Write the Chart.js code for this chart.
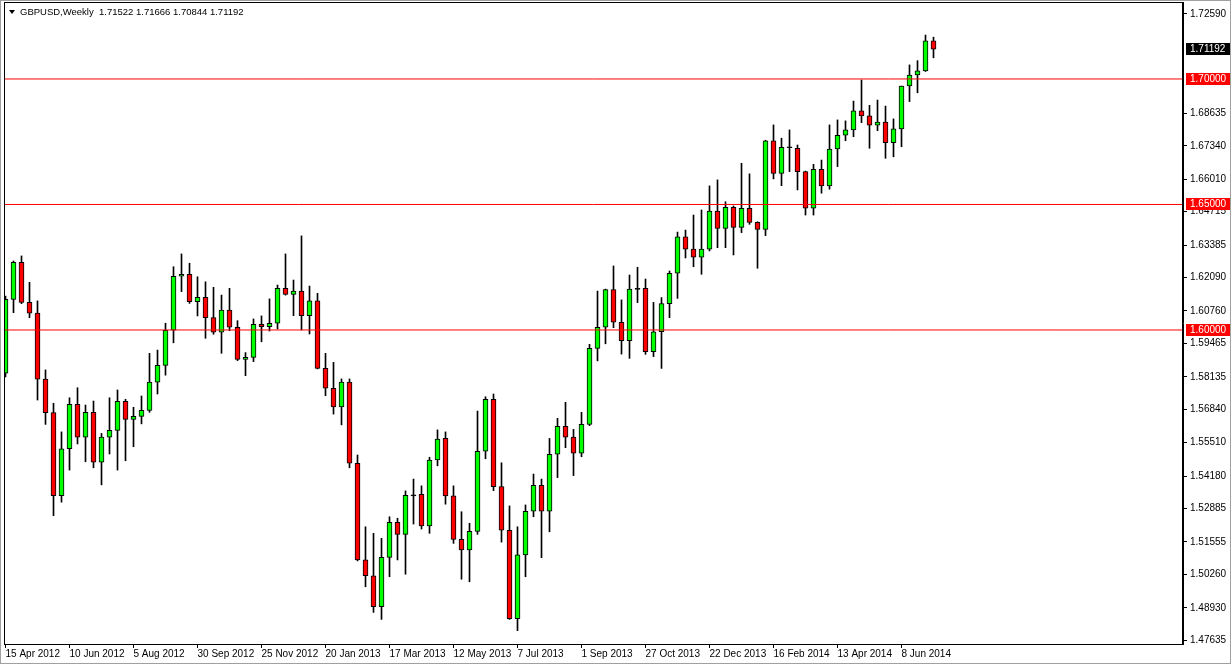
<!DOCTYPE html>
<html><head><meta charset="utf-8">
<script src="https://cdn.jsdelivr.net/npm/chart.js@4.4.0/dist/chart.umd.min.js"></script>
<style>html,body{margin:0;padding:0;background:#fff;}canvas{display:block;}</style>
</head><body>
<canvas id="c" width="1232" height="665"></canvas>
<script>
const symbolTitle = "GBPUSD,Weekly";
const lastQuote = [1.71522, 1.71666, 1.70844, 1.71192];

const opens = [1.5828,1.6122,1.6270,1.6110,1.6067,1.5804,1.5671,1.5340,1.5527,1.5704,
1.5573,1.5672,1.5473,1.5573,1.5600,1.5716,1.5644,1.5656,1.5680,1.5792,
1.5859,1.5999,1.6214,1.6222,1.6113,1.6130,1.6049,1.5991,1.6079,1.6011,
1.5883,1.5891,1.6023,1.6013,1.6027,1.6166,1.6142,1.6155,1.6057,1.6116,
1.5847,1.5768,1.5694,1.5792,1.5469,1.5084,1.5021,1.4898,1.5094,1.5234,
1.5186,1.5341,1.5345,1.5219,1.5482,1.5568,1.5339,1.5166,1.5124,1.5198,
1.5517,1.5724,1.5376,1.5202,1.4850,1.5104,1.5278,1.5381,1.5278,1.5505,
1.5616,1.5573,1.5509,1.5624,1.5927,1.6011,1.6161,1.6031,1.5957,1.6164,
1.6166,1.5914,1.5993,1.6105,1.6226,1.6371,1.6322,1.6290,1.6322,1.6474,
1.6405,1.6489,1.6409,1.6485,1.6429,1.6401,1.6754,1.6624,1.6728,1.6724,
1.6631,1.6485,1.6640,1.6574,1.6721,1.6776,1.6797,1.6873,1.6853,1.6816,
1.6828,1.6746,1.6801,1.6972,1.7016,1.7032,1.71522];
const highs = [1.6135,1.6275,1.6295,1.6190,1.6116,1.5841,1.5708,1.5594,1.5730,1.5770,
1.5701,1.5717,1.5588,1.5730,1.5761,1.5724,1.5692,1.5737,1.5907,1.5920,
1.6027,1.6252,1.6303,1.6266,1.6212,1.6192,1.6170,1.6139,1.6166,1.6037,
1.5910,1.6044,1.6056,1.6124,1.6179,1.6303,1.6199,1.6375,1.6175,1.6146,
1.5907,1.5871,1.5805,1.5805,1.5502,1.5216,1.5190,1.5170,1.5256,1.5250,
1.5359,1.5406,1.5379,1.5493,1.5602,1.5594,1.5379,1.5276,1.5230,1.5677,
1.5734,1.5745,1.5471,1.5299,1.5216,1.5303,1.5426,1.5406,1.5568,1.5648,
1.5712,1.5604,1.5672,1.5943,1.6155,1.6163,1.6255,1.6120,1.6219,1.6250,
1.6203,1.6110,1.6129,1.6235,1.6390,1.6398,1.6458,1.6478,1.6574,1.6598,
1.6511,1.6494,1.6664,1.6622,1.6431,1.6756,1.6817,1.6764,1.6797,1.6737,
1.6633,1.6660,1.6677,1.6817,1.6837,1.6833,1.6912,1.6996,1.6895,1.6916,
1.6892,1.6841,1.6972,1.7056,1.7073,1.7175,1.71666];
const lows = [1.5813,1.6069,1.6105,1.6049,1.5721,1.5624,1.5260,1.5314,1.5442,1.5546,
1.5475,1.5451,1.5383,1.5506,1.5442,1.5479,1.5535,1.5626,1.5672,1.5745,
1.5820,1.5949,1.6153,1.6106,1.6056,1.5967,1.5983,1.5907,1.5997,1.5878,
1.5818,1.5874,1.5953,1.5996,1.6004,1.6139,1.6057,1.6000,1.5984,1.5845,
1.5738,1.5665,1.5622,1.5451,1.5080,1.4977,1.4875,1.4847,1.5017,1.5084,
1.5027,1.5227,1.5207,1.5190,1.5459,1.5306,1.5150,1.5007,1.4997,1.5186,
1.5487,1.5360,1.5155,1.4847,1.4802,1.5017,1.5256,1.5093,1.5196,1.5412,
1.5531,1.5420,1.5495,1.5619,1.5877,1.5945,1.6009,1.5904,1.5887,1.6109,
1.5903,1.5894,1.5847,1.6049,1.6126,1.6287,1.6252,1.6222,1.6315,1.6328,
1.6328,1.6299,1.6388,1.6421,1.6246,1.6376,1.6602,1.6575,1.6631,1.6558,
1.6458,1.6458,1.6545,1.6561,1.6651,1.6754,1.6770,1.6826,1.6724,1.6794,
1.6684,1.6690,1.6730,1.6910,1.6945,1.7030,1.70844];
const closes = [1.6122,1.6270,1.6110,1.6067,1.5804,1.5671,1.5340,1.5527,1.5704,1.5573,
1.5672,1.5473,1.5573,1.5600,1.5716,1.5644,1.5656,1.5680,1.5792,1.5859,
1.5999,1.6214,1.6222,1.6113,1.6130,1.6049,1.5991,1.6079,1.6011,1.5883,
1.5891,1.6023,1.6013,1.6027,1.6166,1.6142,1.6155,1.6057,1.6116,1.5847,
1.5768,1.5694,1.5792,1.5469,1.5084,1.5021,1.4898,1.5094,1.5234,1.5186,
1.5341,1.5341,1.5219,1.5482,1.5565,1.5339,1.5166,1.5124,1.5198,1.5517,
1.5724,1.5376,1.5202,1.4850,1.5104,1.5278,1.5381,1.5278,1.5505,1.5616,
1.5573,1.5509,1.5624,1.5927,1.6011,1.6161,1.6031,1.5957,1.6163,1.6164,
1.5914,1.5993,1.6105,1.6226,1.6371,1.6322,1.6290,1.6322,1.6474,1.6405,
1.6489,1.6409,1.6485,1.6429,1.6401,1.6754,1.6624,1.6728,1.6728,1.6631,
1.6485,1.6640,1.6574,1.6721,1.6776,1.6797,1.6873,1.6853,1.6816,1.6828,
1.6746,1.6801,1.6972,1.7016,1.7032,1.7152,1.71192];

const dateLabels = ["15 Apr 2012","10 Jun 2012","5 Aug 2012","30 Sep 2012","25 Nov 2012","20 Jan 2013","17 Mar 2013","12 May 2013","7 Jul 2013","1 Sep 2013","27 Oct 2013","22 Dec 2013","16 Feb 2014","13 Apr 2014","8 Jun 2014"];
const dateLabelIndex = [0,8,16,24,32,40,48,56,64,72,80,88,96,104,112];
const priceTicks = [1.72590,1.68635,1.67340,1.66010,1.64715,1.63385,1.62090,1.60760,1.59465,1.58135,1.56840,1.55510,1.54180,1.52885,1.51555,1.50260,1.48930,1.47635];
const levelLines = [1.70000, 1.65000, 1.60000];

const X_MIN = -0.1875, X_MAX = 147.1875;
const Y_MIN = 1.47490, Y_MAX = 1.73067;
const FONT = "'Liberation Sans', Arial, sans-serif";

const bodies = opens.map((o, i) => {
  const c = closes[i];
  if (Math.abs(o - c) < 0.0003) { const m = (o + c) / 2; return {x: i, y: [m - 0.0002, m + 0.0002]}; }
  return {x: i, y: [o, c]};
});
const bodyColors = opens.map((o, i) => Math.abs(o - closes[i]) < 0.0003 ? '#000000' : (closes[i] > o ? '#00ff00' : '#ff0000'));
const wicks = highs.map((h, i) => ({x: i, y: [lows[i], h]}));

const lineSets = levelLines.map(v => ({
  type: 'line', data: [{x: X_MIN, y: v}, {x: X_MAX, y: v}],
  borderColor: '#ff0000', borderWidth: 1, pointRadius: 0, order: 0
}));

const zeroPad = s => { s.paddingTop = 0; s.paddingBottom = 0; s.paddingLeft = 0; s.paddingRight = 0; };

const decor = {
  id: 'decor',
  beforeDraw(chart) {
    const ctx = chart.ctx;
    ctx.save();
    ctx.fillStyle = '#ffffff';
    ctx.fillRect(0, 0, chart.width, chart.height);
    ctx.restore();
  },
  afterDraw(chart) {
    const ctx = chart.ctx, a = chart.chartArea, ys = chart.scales.y;
    ctx.save();
    ctx.strokeStyle = '#000';
    ctx.lineWidth = 1;
    ctx.strokeRect(a.left + 0.5, a.top + 0.5, a.right - a.left - 1, a.bottom - a.top);
    ctx.strokeStyle = '#a0a0a0';
    ctx.strokeRect(0.5, 0.5, chart.width - 2, chart.height - 2);
    ctx.font = '10px ' + FONT;
    ctx.textBaseline = 'middle';
    ctx.textAlign = 'left';
    const drawBox = (v, bg) => {
      const y = Math.round(ys.getPixelForValue(v));
      ctx.fillStyle = bg;
      ctx.fillRect(a.right + 3, y - 6, 44, 12);
      ctx.fillStyle = '#ffffff';
      ctx.fillText(v.toFixed(5), a.right + 7, y + 0.5);
    };
    levelLines.forEach(v => drawBox(v, '#ff0000'));
    drawBox(lastQuote[3], '#000000');
    ctx.fillStyle = '#000';
    ctx.beginPath();
    ctx.moveTo(9, 10); ctx.lineTo(15, 10); ctx.lineTo(12, 14); ctx.closePath(); ctx.fill();
    ctx.font = '9.5px ' + FONT;
    ctx.fillText(symbolTitle + '  ' + lastQuote.map(v => v.toFixed(5)).join(' '), 20, 12.5);
    ctx.restore();
  }
};

new Chart(document.getElementById('c'), {
  type: 'bar',
  data: {
    datasets: [
      ...lineSets,
      { label: 'body', data: bodies, backgroundColor: bodyColors, borderColor: '#000000', borderWidth: 1,
        borderSkipped: false, barThickness: 5, grouped: false, order: 1 },
      { label: 'wick', data: wicks, backgroundColor: '#000000', borderWidth: 0,
        barThickness: 1, grouped: false, order: 2 }
    ]
  },
  options: {
    responsive: false, animation: false, devicePixelRatio: 1,
    layout: { padding: { left: 4, top: 2, right: 0, bottom: 0 } },
    plugins: { legend: { display: false }, tooltip: { enabled: false }, title: { display: false } },
    scales: {
      x: {
        type: 'linear', position: 'bottom', min: X_MIN, max: X_MAX, offset: false,
        afterBuildTicks: s => { s.ticks = dateLabelIndex.map(v => ({ value: v })); },
        afterFit: s => { s.height = 21; zeroPad(s); },
        ticks: {
          autoSkip: false, maxRotation: 0, minRotation: 0, align: 'start', padding: 0,
          color: '#000', font: { family: FONT, size: 10 },
          callback: v => dateLabels[dateLabelIndex.indexOf(v)]
        },
        grid: { drawOnChartArea: false, drawTicks: true, tickLength: 4, color: '#000', offset: false },
        border: { display: true, color: '#000' }
      },
      y: {
        type: 'linear', position: 'right', min: Y_MIN, max: Y_MAX,
        afterBuildTicks: s => { s.ticks = priceTicks.map(v => ({ value: v })); },
        afterFit: s => { s.width = 49; zeroPad(s); },
        ticks: { autoSkip: false, padding: 3, color: '#000', font: { family: FONT, size: 10 },
          callback: v => Number(v).toFixed(5) },
        grid: { drawOnChartArea: false, drawTicks: true, tickLength: 4, color: '#000' },
        border: { display: true, color: '#000' }
      }
    }
  },
  plugins: [decor]
});
</script>
</body></html>
